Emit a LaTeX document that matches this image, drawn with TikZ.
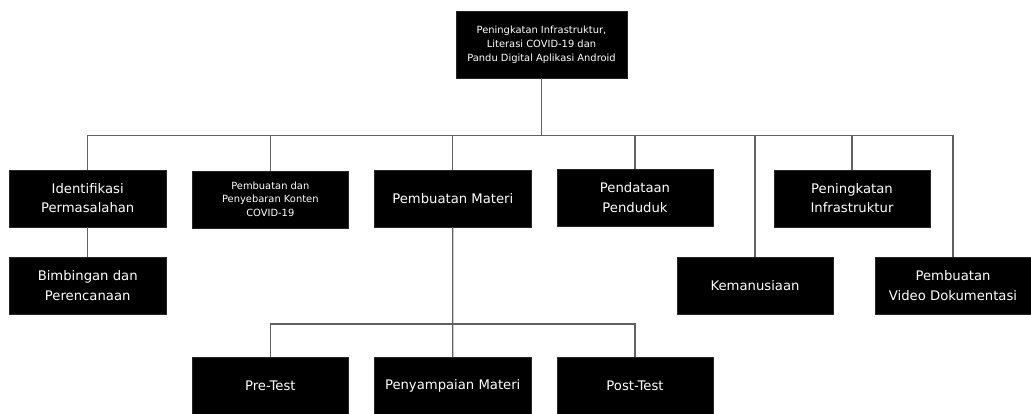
\documentclass[tikz,border=0pt]{standalone}
\usepackage{fontspec}
\setmainfont{DejaVu Sans}
\begin{document}
\begin{tikzpicture}[x=1pt,y=-1pt,
  box/.style={draw=black!85, fill=black, text=white, minimum width=156.5pt, minimum height=57pt, inner sep=0pt, align=center, font=\fontsize{13.2}{19.3}\selectfont},
  smallbox/.style={box, font=\fontsize{9.9}{13.8}\selectfont},
  link/.style={draw=black!62, line width=1.2pt}]
\clip (0,0) rectangle (1031,413);
\fill[white] (0,0) rectangle (1031,413);
\node[smallbox, minimum width=171.5pt, minimum height=67.5pt] (top) at (541.5,44.5) {Peningkatan Infrastruktur,\\Literasi COVID-19 dan\\Pandu Digital Aplikasi Android};
\node[box] (id) at (87.7,198.3) {Identifikasi\\Permasalahan};
\node[smallbox] (pp) at (270.3,199.3) {Pembuatan dan\\Penyebaran Konten\\COVID-19};
\node[box] (pm) at (452.8,198.5) {Pembuatan Materi};
\node[box] (pd) at (635,197.7) {Pendataan\\Penduduk};
\node[box] (pi) at (852,198.3) {Peningkatan\\Infrastruktur};
\node[box] (bp) at (87.7,285.5) {Bimbingan dan\\Perencanaan};
\node[box] (km) at (755,285.2) {Kemanusiaan};
\node[box] (pv) at (953,285.6) {Pembuatan\\Video Dokumentasi};
\node[box] (pre) at (270.3,385.8) {Pre-Test};
\node[box] (pen) at (452.7,385.8) {Penyampaian Materi};
\node[box] (post) at (635,385.8) {Post-Test};
\coordinate (bus) at (0,135.5);
\coordinate (bus2) at (0,324);
\draw[link] (top.south) -- (top.south |- bus);
\draw[link] (id.north) |- (top.south |- bus) -| (pv.north);
\foreach \n in {pp,pm,pd,pi,km} \draw[link] (\n.north) -- (\n.north |- bus);
\draw[link] (id.south) -- (bp.north);
\draw[link] (pm.south) -- (pen.north);
\draw[link] (pre.north) |- (pm.south |- bus2) -| (post.north);
\end{tikzpicture}
\end{document}
